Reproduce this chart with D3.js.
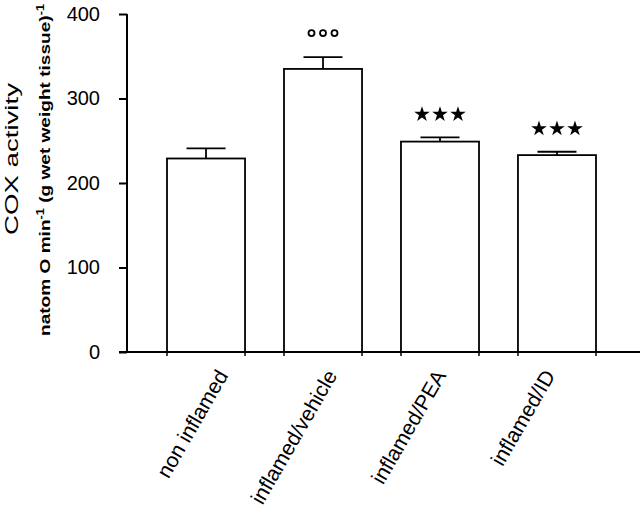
<!DOCTYPE html>
<html><head><meta charset="utf-8">
<script src="https://cdn.jsdelivr.net/npm/d3@7"></script>
<style>body{margin:0;background:#fff}svg{display:block}text{font-family:"Liberation Sans",Arial,sans-serif;fill:#000}</style>
</head><body>
<script>
const categories = ["non inflamed","inflamed/vehicle","inflamed/PEA","inflamed/ID"];
const values = [229, 335, 249, 233];
const errors = [12, 14, 5, 4];
const marks = ["", "circles", "stars", "stars"];
const yTicks = [0, 100, 200, 300, 400];

const W = 640, H = 521;
const svg = d3.select("body").append("svg").attr("width", W).attr("height", H);

const y = d3.scaleLinear().domain([0, 400]).range([352, 14]);
const x = d3.scaleBand().domain(categories).range([127, 636]).paddingInner(0.333).paddingOuter(0.342);
const xLab = d3.scalePoint().domain(categories).range([216, 543]);

// bars
svg.selectAll("rect.bar").data(values).enter().append("rect")
  .attr("x", (d,i) => x(categories[i])).attr("y", d => y(d))
  .attr("width", x.bandwidth()).attr("height", d => y(0) - y(d))
  .attr("fill", "#fff").attr("stroke", "#000").attr("stroke-width", 1.8);

// error bars (upper only)
values.forEach((v,i) => {
  const cx = x(categories[i]) + x.bandwidth()/2;
  const hw = x.bandwidth()/4;
  svg.append("line").attr("x1", cx).attr("x2", cx).attr("y1", y(v)).attr("y2", y(v+errors[i]))
    .attr("stroke","#000").attr("stroke-width",1.8);
  svg.append("line").attr("x1", cx-hw).attr("x2", cx+hw).attr("y1", y(v+errors[i])).attr("y2", y(v+errors[i]))
    .attr("stroke","#000").attr("stroke-width",1.8);
  const my = y(v+errors[i]) - 23;
  if (marks[i] === "stars") {
    [-18,0,18].forEach(dx => svg.append("path").attr("d", d3.symbol(d3.symbolStar, 75)())
      .attr("transform", `translate(${cx+dx},${my})`).attr("fill","#000"));
  } else if (marks[i] === "circles") {
    [-11.5,0,11.5].forEach(dx => svg.append("circle").attr("cx", cx+dx).attr("cy", my-1).attr("r",3)
      .attr("fill","none").attr("stroke","#000").attr("stroke-width",1.8));
  }
});

// bar-edge ticks below x axis
categories.forEach(c => {
  [x(c), x(c)+x.bandwidth()].forEach(px => svg.append("line").attr("x1",px).attr("x2",px)
    .attr("y1", y(0)).attr("y2", y(0)+4).attr("stroke","#000").attr("stroke-width",1.5));
});

// x axis line
svg.append("line").attr("x1",119).attr("x2",640).attr("y1",y(0)).attr("y2",y(0))
  .attr("stroke","#000").attr("stroke-width",2);

// y axis
const yAxis = svg.append("g").attr("transform","translate(127,0)")
  .call(d3.axisLeft(y).tickValues(yTicks).tickSize(8).tickPadding(19).tickFormat(d3.format("d")));
yAxis.select(".domain").attr("stroke","#000").attr("stroke-width",2).attr("d","M0,14V352");
yAxis.selectAll(".tick line").attr("stroke","#000").attr("stroke-width",2);
yAxis.selectAll(".tick text").style("font-size","20px").style("font-family","Liberation Sans, Arial, sans-serif");

// x labels
svg.selectAll("text.xl").data(categories).enter().append("text")
  .attr("class","xl")
  .attr("transform", d => `translate(${xLab(d)},${368}) rotate(-60)`)
  .attr("text-anchor","end").attr("dy","0.7em")
  .style("font-size","21px").text(d => d);

// y titles
svg.append("text").attr("transform","translate(18,159) rotate(-90)")
  .attr("text-anchor","middle").style("font-size","18px")
  .attr("textLength", 152).attr("lengthAdjust","spacingAndGlyphs").text("COX activity");
const t2 = svg.append("text").attr("transform","translate(50,170) rotate(-90)")
  .attr("text-anchor","middle").style("font-size","15px").style("font-weight","bold")
  .attr("textLength", 332).attr("lengthAdjust","spacingAndGlyphs");
t2.append("tspan").text("natom O min");
t2.append("tspan").attr("dy","-6").style("font-size","10px").text("-1");
t2.append("tspan").attr("dy","6").text(" (g wet weight  tissue)");
t2.append("tspan").attr("dy","-6").style("font-size","10px").text("-1");
</script>
</body></html>
